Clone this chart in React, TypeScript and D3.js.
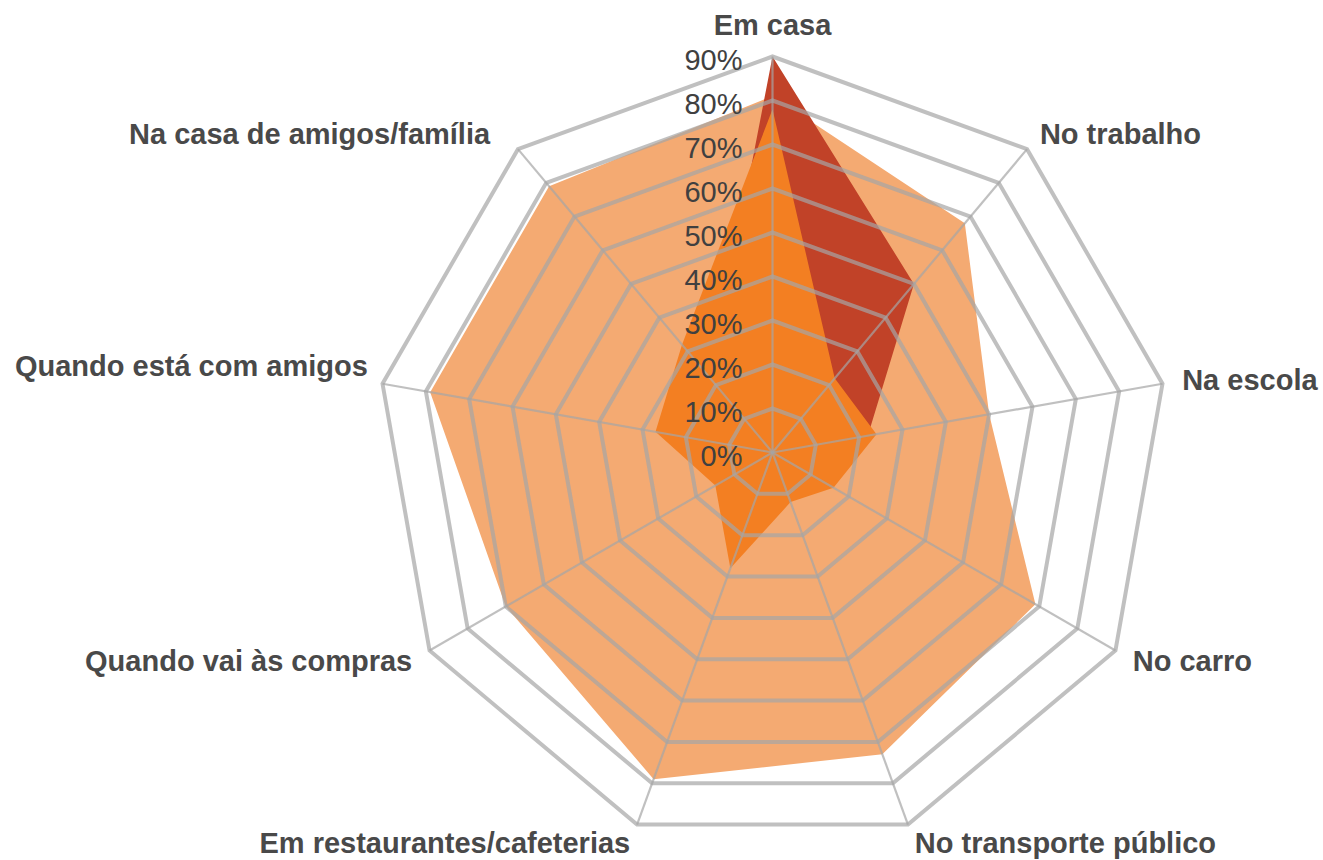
import React from "react";
import * as d3 from "d3";

const categories = [
  "Em casa",
  "No trabalho",
  "Na escola",
  "No carro",
  "No transporte público",
  "Em restaurantes/cafeterias",
  "Quando vai às compras",
  "Quando está com amigos",
  "Na casa de amigos/família",
];

// values in percent
const seriesLight = [81, 68, 50, 69, 73, 79, 70, 79, 79];
const seriesDark = [90, 50, 22, 10, 6, 10, 6, 10, 22];
const seriesOrange = [78, 22, 24, 16, 12, 28, 15, 27, 32];

const tickValues = [0, 10, 20, 30, 40, 50, 60, 70, 80, 90];
const tickLabels = ["0%", "10%", "20%", "30%", "40%", "50%", "60%", "70%", "80%", "90%"];

const series = [
  { name: "light", values: seriesLight, color: "#F4AA72" },
  { name: "dark", values: seriesDark, color: "#C14228" },
  { name: "orange", values: seriesOrange, color: "#F37F22" },
];

const W = 1323;
const H = 860;
const cx = 772.5;
const cy = 452.5;
const R = 396;
const FONT = "'Liberation Sans', Arial, Helvetica, sans-serif";

export default function App() {
  const r = d3.scaleLinear().domain([0, 90]).range([0, R]);
  const n = categories.length;
  const angle = (i: number) => (i * 2 * Math.PI) / n;
  const pt = (i: number, rad: number): [number, number] => [
    rad * Math.sin(angle(i)),
    -rad * Math.cos(angle(i)),
  ];

  const radial = d3
    .lineRadial<number>()
    .angle((_, i) => angle(i))
    .radius((d) => r(d))
    .curve(d3.curveLinearClosed);

  const ringPath = (v: number) => radial(categories.map(() => v)) as string;

  return (
    <svg
      width={W}
      height={H}
      style={{ position: "absolute", left: 0, top: 0, display: "block", background: "#fff" }}
    >
      <g transform={`translate(${cx},${cy})`}>
        {series.map((s) => (
          <path key={s.name} d={radial(s.values) as string} fill={s.color} stroke="none" />
        ))}
        <g stroke="#a5a5a5" strokeOpacity={0.7} fill="none">
          {tickValues
            .filter((v) => v > 0)
            .map((v) => (
              <path key={v} d={ringPath(v)} strokeWidth={4} strokeLinejoin="miter" />
            ))}
          {categories.map((c, i) => {
            const [x, y] = pt(i, r(90));
            return <line key={c} x1={0} y1={0} x2={x} y2={y} strokeWidth={2.2} />;
          })}
        </g>
        <g fontFamily={FONT} fontSize={29} fill="#404040" textAnchor="end">
          {tickValues.map((v, i) => (
            <text key={v} x={-30} y={-r(v) + 13}>
              {tickLabels[i]}
            </text>
          ))}
        </g>
        <g fontFamily={FONT} fontSize={29} fontWeight="bold" fill="#494949">
          {categories.map((c, i) => {
            const s = Math.sin(angle(i));
            const co = Math.cos(angle(i));
            const [x, y] = pt(i, R + 20);
            let anchor = "middle";
            if (s > 0.1) anchor = "start";
            else if (s < -0.1) anchor = "end";
            const extra = Math.abs(s) < 0.1 && co > 0 ? -12 : 0;
            let dx = 0;
            let dy = 0;
            // upper-left diagonal label sits a bit further out in the reference
            if (s < -0.1 && co > 0.5) dx = -15;
            // left horizontal label sits above its spoke
            if (s < -0.9 && co > 0) {
              dx = 5;
              dy = -14;
            }
            return (
              <text key={c} x={x + dx} y={y + extra + dy + 10} textAnchor={anchor}>
                {c}
              </text>
            );
          })}
        </g>
      </g>
    </svg>
  );
}
